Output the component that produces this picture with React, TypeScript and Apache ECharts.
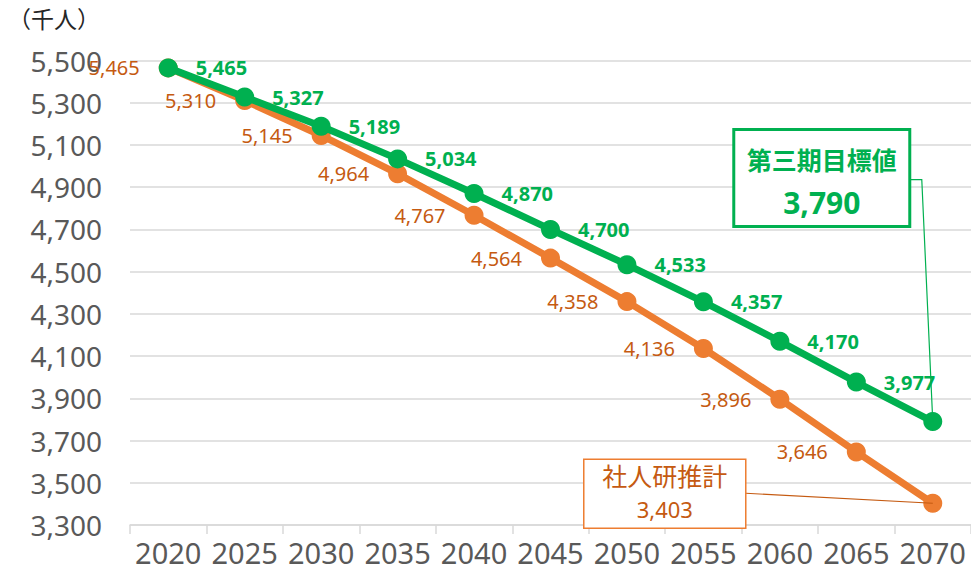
import React, { useEffect, useRef } from "react";
import * as echarts from "echarts";

const years = ["2020", "2025", "2030", "2035", "2040", "2045", "2050", "2055", "2060", "2065", "2070"];
const targetValues = [5465, 5327, 5189, 5034, 4870, 4700, 4533, 4357, 4170, 3977, 3790];
const ipssValues = [5465, 5310, 5145, 4964, 4767, 4564, 4358, 4136, 3896, 3646, 3403];
const targetName = "第三期目標値";
const ipssName = "社人研推計";
const unitLabel = "（千人）";

const GREEN = "#00B050";
const ORANGE = "#ED7D31";
const ORANGE_TEXT = "#C55A11";
const FONT = "'Noto Sans', 'Noto Sans CJK JP', sans-serif";

const fmt = (v: number) => v.toLocaleString("en-US");

export default function App() {
  const ref = useRef<HTMLDivElement>(null);
  useEffect(() => {
    if (!ref.current) return;
    const chart = echarts.init(ref.current, null, { renderer: "svg" });
    const last = years.length - 1;
    const mkData = (vals: number[]) =>
      vals.map((v, i) => (i === last ? { value: v, label: { show: false } } : v));
    chart.setOption({
      animation: false,
      textStyle: { fontFamily: FONT },
      grid: { left: 130, right: -6, top: 60.5, bottom: 51, containLabel: false },
      graphic: [],
      xAxis: {
        type: "category",
        data: years,
        boundaryGap: true,
        axisLine: { show: true, lineStyle: { color: "#d9d9d9", width: 1.5 } },
        axisTick: { show: true, interval: 0, length: 9, lineStyle: { color: "#d9d9d9", width: 1.5 } },
        axisLabel: { color: "#595959", fontSize: 29, margin: 13, interval: 0, fontFamily: FONT, hideOverlap: false },
      },
      yAxis: {
        type: "value",
        min: 3300,
        max: 5500,
        interval: 200,
        axisLine: { show: false },
        axisTick: { show: false },
        axisLabel: { color: "#595959", fontSize: 28, margin: 28, fontFamily: FONT, formatter: (v: number) => fmt(v) },
        splitLine: { lineStyle: { color: "#d9d9d9", width: 1.5 } },
      },
      series: [
        {
          name: ipssName,
          type: "line",
          data: mkData(ipssValues),
          symbol: "circle",
          symbolSize: 19,
          itemStyle: { color: ORANGE },
          lineStyle: { color: ORANGE, width: 7 },
          label: {
            show: true,
            position: "left",
            distance: 19,
            color: ORANGE_TEXT,
            fontSize: 20,
            fontFamily: FONT,
            formatter: (p: any) => fmt(p.value),
          },
          z: 2,
        },
        {
          name: targetName,
          type: "line",
          data: mkData(targetValues),
          symbol: "circle",
          symbolSize: 19,
          itemStyle: { color: GREEN },
          lineStyle: { color: GREEN, width: 7 },
          label: {
            show: true,
            position: "right",
            distance: 18,
            color: GREEN,
            fontSize: 20,
            fontWeight: "bold",
            fontFamily: FONT,
            formatter: (p: any) => fmt(p.value),
          },
          z: 3,
        },
      ],
    });

    const [gx, gy] = chart.convertToPixel({ seriesIndex: 1 }, [last, targetValues[last]]) as number[];
    const [ox, oy] = chart.convertToPixel({ seriesIndex: 0 }, [last, ipssValues[last]]) as number[];

    const gBox = { x: gx - 199, y: gy - 292, w: 176, h: 97 };
    const oBox = { x: ox - 349, y: oy - 44, w: 162, h: 69 };

    chart.setOption({
      graphic: [
        {
          type: "text",
          left: 8,
          top: 7,
          style: { text: unitLabel, fontSize: 23, fill: "#262626", fontFamily: FONT },
        },
        {
          type: "polyline",
          z: 100,
          shape: { points: [[gBox.x + gBox.w, gBox.y + 50], [gx - 11, gBox.y + 50], [gx, gy]] },
          style: { stroke: GREEN, lineWidth: 1.2, fill: null },
        },
        {
          type: "rect",
          z: 100,
          shape: { x: gBox.x, y: gBox.y, width: gBox.w, height: gBox.h },
          style: { fill: "#fff", stroke: GREEN, lineWidth: 3 },
        },
        {
          type: "text",
          z: 101,
          x: gBox.x + gBox.w / 2,
          y: gBox.y + 30,
          style: { text: targetName, fontSize: 25, fontWeight: "bold", fill: GREEN, align: "center", verticalAlign: "middle", fontFamily: FONT },
        },
        {
          type: "text",
          z: 101,
          x: gBox.x + gBox.w / 2,
          y: gBox.y + 73,
          style: { text: fmt(targetValues[last]), fontSize: 30, fontWeight: "bold", fill: GREEN, align: "center", verticalAlign: "middle", fontFamily: FONT },
        },
        {
          type: "line",
          z: 100,
          shape: { x1: oBox.x + oBox.w, y1: oBox.y + 34, x2: ox, y2: oy },
          style: { stroke: ORANGE_TEXT, lineWidth: 1.2 },
        },
        {
          type: "rect",
          z: 100,
          shape: { x: oBox.x, y: oBox.y, width: oBox.w, height: oBox.h },
          style: { fill: "#fff", stroke: ORANGE, lineWidth: 1.5 },
        },
        {
          type: "text",
          z: 101,
          x: oBox.x + oBox.w / 2,
          y: oBox.y + 17,
          style: { text: ipssName, fontSize: 25, fill: ORANGE_TEXT, align: "center", verticalAlign: "middle", fontFamily: FONT },
        },
        {
          type: "text",
          z: 101,
          x: oBox.x + oBox.w / 2,
          y: oBox.y + 50,
          style: { text: fmt(ipssValues[last]), fontSize: 22, fill: ORANGE_TEXT, align: "center", verticalAlign: "middle", fontFamily: FONT },
        },
      ],
    });

    return () => chart.dispose();
  }, []);
  return <div ref={ref} style={{ width: 971, height: 576, position: "absolute", left: 0, top: 0 }} />;
}
